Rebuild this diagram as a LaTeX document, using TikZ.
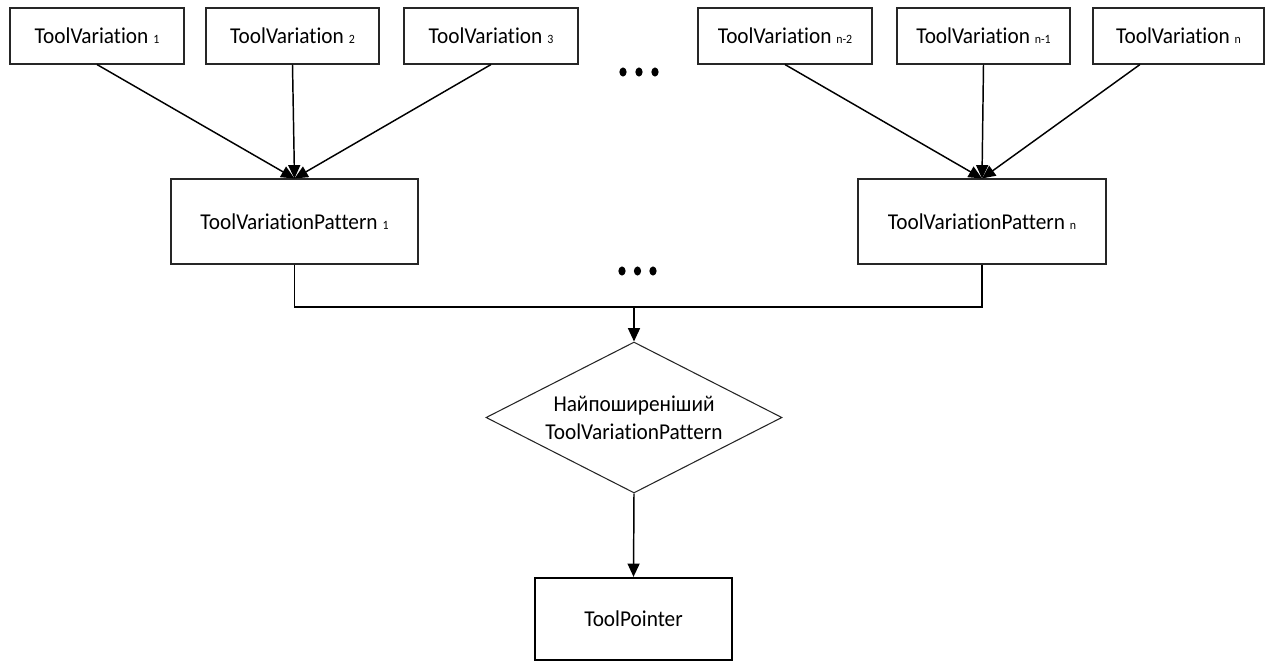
\documentclass[tikz,border=0pt]{standalone}
\usepackage{fontspec}
\setmainfont{Carlito}[FakeStretch=0.94,Ligatures=NoCommon]
\usetikzlibrary{arrows.meta,shapes.geometric}
\newcommand{\sbs}[1]{{\fontsize{9.5}{11}\selectfont #1}}
\begin{document}
\begin{tikzpicture}[x=0.75pt,y=-0.75pt,
  box/.style={draw=black!85,line width=0.8pt,fill=white,inner sep=0pt,
    font=\fontsize{17}{21}\selectfont},
  dia/.style={diamond,aspect=1.96,draw=black!85,line width=0.8pt,inner sep=0pt,
    minimum width=222pt,minimum height=113.25pt,align=center,
    font=\fontsize{17}{21}\selectfont},
  conn/.style={line width=1.1pt,black},
  arr/.style={conn,-{Triangle[length=10pt,width=9pt]}}]
\useasboundingbox (0,0) rectangle (1265,664);
% top row
\node[box,minimum width=130.5pt,minimum height=42pt] (t1) at (97,36) {ToolVariation \sbs{1}};
\node[box,minimum width=129.75pt,minimum height=42pt] (t2) at (292.5,36) {ToolVariation \sbs{2}};
\node[box,minimum width=130.5pt,minimum height=42pt] (t3) at (491,36) {ToolVariation \sbs{3}};
\node[box,minimum width=130.5pt,minimum height=42pt] (tn2) at (785,36) {ToolVariation \sbs{n-2}};
\node[box,minimum width=129.75pt,minimum height=42pt] (tn1) at (983.5,36) {ToolVariation \sbs{n-1}};
\node[box,minimum width=128.25pt,minimum height=42pt] (tn) at (1178.5,36) {ToolVariation \sbs{n}};
% pattern row
\node[box,minimum width=185.25pt,minimum height=63.75pt] (p1) at (294.5,221.5) {ToolVariationPattern \sbs{1}};
\node[box,minimum width=186pt,minimum height=63.75pt] (pn) at (982,221.5) {ToolVariationPattern \sbs{n}};
% decision
\node[dia] (d) at (634,417.5) {Найпоширеніший\\ToolVariationPattern};
% result
\node[box,line width=1.7pt,draw=black,minimum width=147.75pt,minimum height=61.5pt] (tp) at (633.5,619) {ToolPointer};
% dots
\foreach \xx in {623,639,655} \fill (\xx,72) ellipse (2.7pt and 3.4pt);
\foreach \xx in {622,637.5,653} \fill (\xx,271) ellipse (2.7pt and 3.4pt);
% connectors
\draw[arr] (t1.south) -- (p1.north);
\draw[arr] (t2.south) -- (p1.north);
\draw[arr] (t3.south) -- (p1.north);
\draw[arr] (tn2.south) -- (pn.north);
\draw[arr] (tn1.south) -- (pn.north);
\draw[arr] ([xshift=-28.9pt]tn.south) -- (pn.north);
\coordinate (j) at (634,307);
\draw[conn] (p1.south) |- (j);
\draw[conn] (pn.south) |- (j);
\draw[arr] (j) -- (d.north);
\draw[arr] (d.south) -- (tp.north);
\end{tikzpicture}
\end{document}
